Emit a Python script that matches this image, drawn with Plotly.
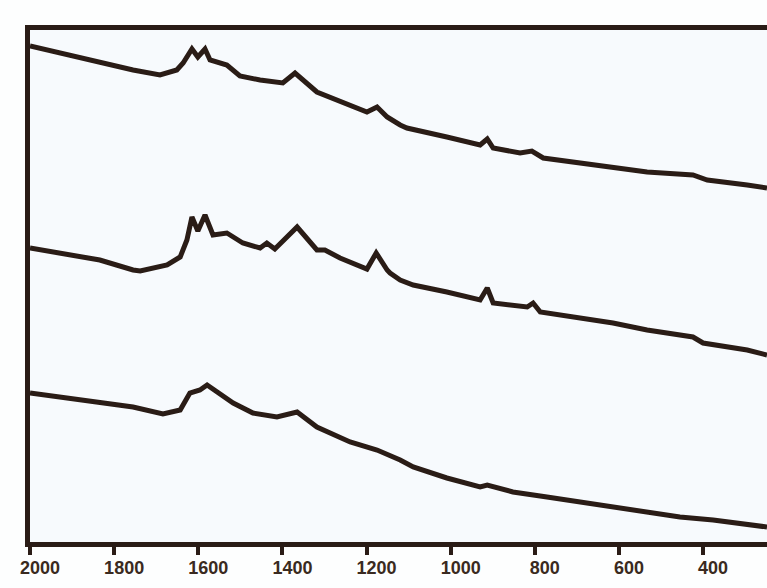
import plotly.graph_objects as go

# Wavenumber (cm-1) and relative intensity (arbitrary units) for the three spectra
wn_top = [2000, 1912, 1834, 1755, 1691, 1651, 1636, 1615, 1601, 1584, 1572, 1532, 1501, 1453,
          1399, 1370, 1318, 1280, 1199, 1175, 1151, 1120, 1104, 1009, 930, 913, 899, 835, 807,
          780, 692, 614, 533, 424, 390, 295, 248]
int_top = [496, 487, 479, 472, 467, 472, 479, 493, 485, 493, 482, 477, 466, 462,
           459, 469, 450, 444, 430, 435, 425, 417, 414, 405, 397, 403, 394, 389, 391,
           384, 379, 374, 370, 367, 362, 357, 354]

wn_mid = [2000, 1912, 1834, 1755, 1738, 1674, 1643, 1627, 1615, 1601, 1584, 1565, 1532, 1494,
          1453, 1437, 1418, 1365, 1318, 1299, 1263, 1199, 1177, 1151, 1144, 1120, 1089, 1009,
          930, 913, 899, 818, 804, 787, 692, 614, 533, 424, 400, 295, 248]
int_mid = [294, 288, 282, 272, 271, 277, 285, 302, 325, 311, 327, 307, 309, 299,
           294, 299, 293, 315, 292, 292, 284, 273, 289, 272, 269, 262, 257, 250,
           242, 254, 239, 235, 239, 230, 224, 219, 212, 205, 199, 192, 187]

wn_bot = [2000, 1912, 1834, 1755, 1684, 1643, 1620, 1596, 1579, 1517, 1470, 1413, 1365, 1318,
          1239, 1175, 1120, 1089, 1009, 930, 913, 852, 771, 692, 614, 533, 455, 376, 295, 248]
int_bot = [149, 144, 140, 135, 128, 132, 149, 152, 157, 139, 129, 125, 130, 115,
           100, 92, 82, 75, 64, 55, 57, 50, 45, 40, 35, 30, 25, 22, 18, 15]

tick_vals = [2000, 1800, 1600, 1400, 1200, 1000, 800, 600, 400]
tick_text = ["2000", "1800", "1600", "1400", "1200", "1000", "800", "600", "400"]

ink = "#2a1c16"

fig = go.Figure()
for wn, inten in [(wn_top, int_top), (wn_mid, int_mid), (wn_bot, int_bot)]:
    fig.add_trace(go.Scatter(x=wn, y=inten, mode="lines",
                             line=dict(color=ink, width=5), showlegend=False,
                             hoverinfo="skip"))

fig.update_layout(
    width=767, height=588,
    margin=dict(l=30, r=0, t=30, b=46),
    paper_bgcolor="#fdfefe",
    plot_bgcolor="#f7fafd",
    showlegend=False,
)
fig.update_xaxes(
    range=[2000, 248], tickvals=tick_vals, ticktext=tick_text,
    ticks="outside", ticklen=8, tickwidth=4, tickcolor=ink,
    showline=True, linewidth=5, linecolor=ink, mirror=True,
    showgrid=False, zeroline=False,
    tickfont=dict(family="Liberation Sans", size=18, color="#3a2a20", weight="bold"),
    ticklabelshift=-10, ticklabelstandoff=-3,
)
fig.update_yaxes(
    range=[0, 512], showticklabels=False, ticks="",
    showline=True, linewidth=5, linecolor=ink, mirror=False,
    showgrid=False, zeroline=False,
)

fig.write_html("out.html", config={"displayModeBar": False},
               post_script="document.body.style.margin='0';document.body.style.overflow='hidden';")
